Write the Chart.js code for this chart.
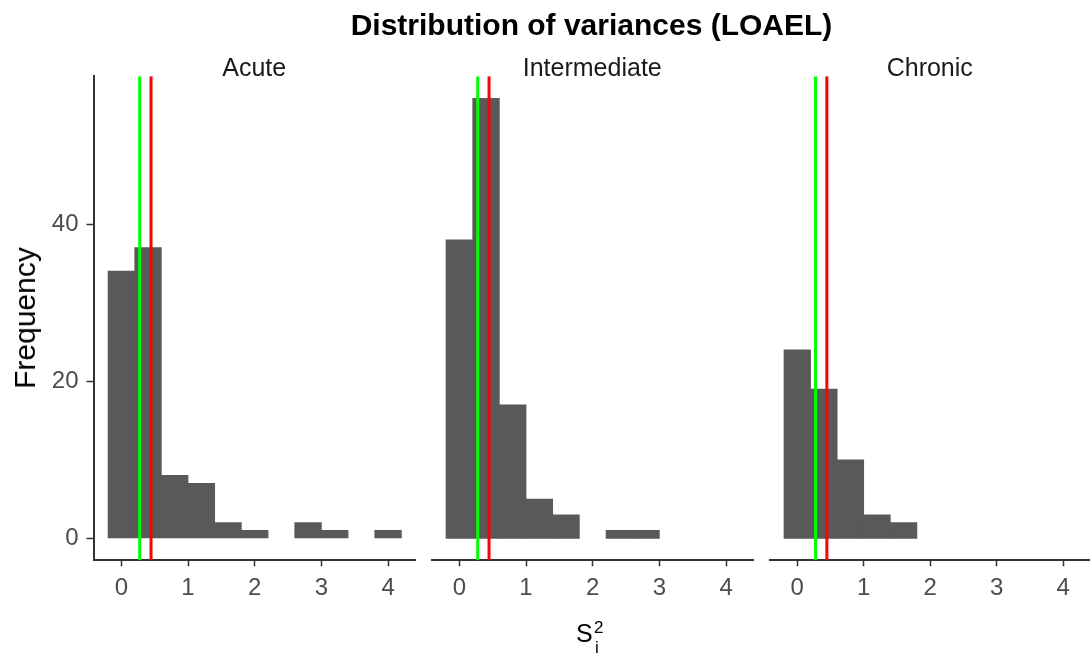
<!DOCTYPE html>
<html>
<head>
<meta charset="utf-8">
<title>Distribution of variances (LOAEL)</title>
<script src="https://cdn.jsdelivr.net/npm/chart.js@4.4.1/dist/chart.umd.min.js"></script>
<style>
  body { margin: 0; background: #fff; font-family: "Liberation Sans", Arial, sans-serif; }
  #wrap { position: relative; width: 1090px; height: 663px; overflow: hidden; background: #fff; }
  #wrap canvas { position: absolute; left: 0; top: 0; }
  .txt { position: absolute; white-space: nowrap; line-height: 1; color: #000; }
  #mainTitle { left: 93px; width: 997px; top: 10px; text-align: center; font-size: 30px; font-weight: bold; }
  #yTitle { left: 25px; top: 318px; font-size: 30px; transform: translate(-50%, -50%) rotate(-90deg); }
  #xS { left: 576px; top: 621px; font-size: 25px; }
  #xSup { left: 594px; top: 619px; font-size: 17px; }
  #xSub { left: 595px; top: 639px; font-size: 17px; }
</style>
</head>
<body>
<div id="wrap">
  <canvas id="panelAcute" width="1090" height="663"></canvas>
  <canvas id="panelIntermediate" width="1090" height="663"></canvas>
  <canvas id="panelChronic" width="1090" height="663"></canvas>
  <div class="txt" id="mainTitle">Distribution of variances (LOAEL)</div>
  <div class="txt" id="yTitle">Frequency</div>
  <div class="txt" id="xS">S</div>
  <div class="txt" id="xSup">2</div>
  <div class="txt" id="xSub">i</div>
</div>
<script>
// histogram bins (centre of each bin) and counts per panel
const binCenters = [0, 0.4, 0.8, 1.2, 1.6, 2.0, 2.4, 2.8, 3.2, 3.6, 4.0];
const acuteCounts = [34, 37, 8, 7, 2, 1, 0, 2, 1, 0, 1];
const intermediateCounts = [38, 56, 17, 5, 3, 0, 1, 1, 0, 0, 0];
const chronicCounts = [24, 19, 10, 3, 2, 0, 0, 0, 0, 0, 0];
const panelNames = ['Acute', 'Intermediate', 'Chronic'];

// reference lines (same in every panel)
const greenLineValue = 0.275;
const redLineValue = 0.445;

// tick labels
const xTicks = [0, 1, 2, 3, 4];
const yTicks = [0, 20, 40];

// axis limits
const xMin = -0.418, xMax = 4.404;
const yMin = -2.8, yMax = 58.8;

// layout
const W = 1090, H = 663;
const plotTop = 76.3, plotBottom = 560.3;
const panelLefts = [93.5, 431.5, 769.5];
const panelWidth = 321.5;
const fontFamily = '"Liberation Sans", Arial, sans-serif';
const stripSize = 25, stripLineHeight = 0.55;

function makePanel(canvasId, idx, counts) {
    const left = panelLefts[idx];
    const right = left + panelWidth;
    const showY = idx === 0;
    const ctx = document.getElementById(canvasId).getContext('2d');

    return new Chart(ctx, {
        type: 'bar',
        data: {
            datasets: [
                {
                    type: 'line',
                    data: [{ x: greenLineValue, y: yMin }, { x: greenLineValue, y: yMax }],
                    borderColor: '#00ff00',
                    borderWidth: 3,
                    pointRadius: 0,
                    order: 0
                },
                {
                    type: 'line',
                    data: [{ x: redLineValue, y: yMin }, { x: redLineValue, y: yMax }],
                    borderColor: '#ff0000',
                    borderWidth: 3,
                    pointRadius: 0,
                    order: 0
                },
                {
                    type: 'bar',
                    // empty bins are left out so no hairline is drawn for them
                    data: binCenters.map((x, k) => ({ x: x, y: counts[k] === 0 ? null : counts[k] })),
                    backgroundColor: '#595959',
                    borderWidth: 0,
                    barPercentage: 1,
                    categoryPercentage: 1,
                    order: 1
                }
            ]
        },
        options: {
            responsive: false,
            animation: false,
            devicePixelRatio: 1,
            events: [],
            layout: {
                padding: {
                    left: showY ? 0 : left,
                    right: W - right,
                    top: plotTop - stripSize * stripLineHeight,
                    bottom: 0
                }
            },
            plugins: {
                legend: { display: false },
                tooltip: { enabled: false },
                title: {
                    display: true,
                    text: panelNames[idx],
                    fullSize: false,
                    color: '#1a1a1a',
                    padding: 0,
                    font: { family: fontFamily, size: stripSize, weight: 'normal', lineHeight: stripLineHeight }
                }
            },
            scales: {
                x: {
                    type: 'linear',
                    min: xMin,
                    max: xMax,
                    offset: false,
                    afterBuildTicks: function(scale) {
                        scale.ticks = xTicks.map(v => ({ value: v }));
                    },
                    afterFit: function(scale) {
                        scale.height = H - plotBottom;
                    },
                    grid: {
                        offset: false,
                        drawOnChartArea: false,
                        drawTicks: true,
                        tickLength: 6,
                        tickColor: '#333333',
                        tickWidth: 1.5
                    },
                    border: { display: true, color: '#333333', width: 2 },
                    ticks: {
                        padding: 8,
                        color: '#4d4d4d',
                        maxRotation: 0,
                        autoSkip: false,
                        font: { family: fontFamily, size: 24 }
                    }
                },
                y: {
                    display: showY,
                    min: yMin,
                    max: yMax,
                    afterBuildTicks: function(scale) {
                        scale.ticks = yTicks.map(v => ({ value: v }));
                    },
                    afterFit: function(scale) {
                        scale.width = showY ? left : 0;
                    },
                    grid: {
                        offset: false,
                        drawOnChartArea: false,
                        drawTicks: true,
                        tickLength: 7,
                        tickColor: '#333333',
                        tickWidth: 1.5
                    },
                    border: { display: true, color: '#333333', width: 2 },
                    ticks: {
                        padding: 8,
                        color: '#4d4d4d',
                        font: { family: fontFamily, size: 24 }
                    }
                }
            }
        }
    });
}

makePanel('panelAcute', 0, acuteCounts);
makePanel('panelIntermediate', 1, intermediateCounts);
makePanel('panelChronic', 2, chronicCounts);
</script>
</body>
</html>
